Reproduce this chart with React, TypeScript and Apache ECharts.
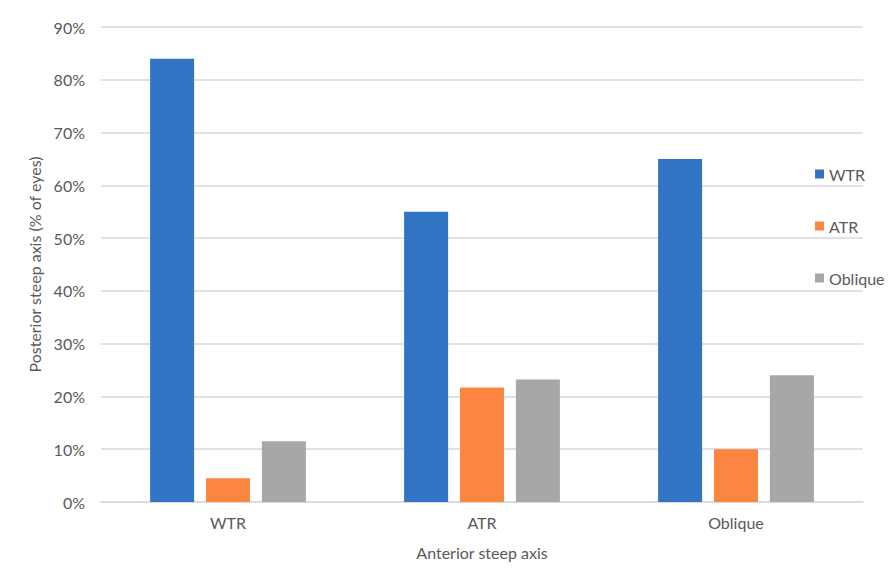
import React, { useEffect, useRef } from "react";
import * as echarts from "echarts";

const categories = ["WTR", "ATR", "Oblique"];
const seriesNames = ["WTR", "ATR", "Oblique"];
const wtrValues = [84, 55, 65];
const atrValues = [4.5, 21.7, 10];
const obliqueValues = [11.5, 23.2, 24];
const colors = ["#3174C3", "#FD8542", "#A7A7A7"];

export default function App() {
  const ref = useRef<HTMLDivElement>(null);
  useEffect(() => {
    const chart = echarts.init(ref.current!, null, { renderer: "svg" });
    const font = "Lato, 'Open Sans', sans-serif";
    const data = [wtrValues, atrValues, obliqueValues];
    chart.setOption({
      animation: false,
      textStyle: { fontFamily: font },
      grid: { left: 101, right: 25, top: 27, bottom: 74 },
      legend: {
        orient: "vertical",
        left: 810,
        top: 161,
        itemGap: 36,
        itemWidth: 9,
        itemHeight: 9,
        icon: "rect",
        textStyle: { color: "#595959", fontSize: 16, fontFamily: font },
        data: seriesNames,
      },
      xAxis: {
        type: "category",
        data: categories,
        axisTick: { show: false },
        axisLine: { lineStyle: { color: "#D9D9D9", width: 1.5 } },
        axisLabel: { color: "#595959", fontSize: 16, margin: 12 },
        name: "Anterior steep axis",
        nameLocation: "middle",
        nameGap: 42,
        nameTextStyle: { color: "#595959", fontSize: 16 },
      },
      yAxis: {
        type: "value",
        min: 0,
        max: 90,
        interval: 10,
        axisLabel: { color: "#595959", fontSize: 16, formatter: "{value}%", margin: 16 },
        axisLine: { show: false },
        axisTick: { show: false },
        splitLine: { lineStyle: { color: "#D9D9D9", width: 1.5 } },
        name: "Posterior steep axis (% of eyes)",
        nameLocation: "middle",
        nameGap: 57,
        nameTextStyle: { color: "#595959", fontSize: 16 },
      },
      series: seriesNames.map((n, i) => ({
        name: n,
        type: "bar",
        data: data[i],
        barWidth: 44,
        barGap: "27%",
        itemStyle: { color: colors[i] },
      })),
    });
    return () => chart.dispose();
  }, []);
  return (
    <div
      ref={ref}
      style={{ position: "fixed", left: 0, top: 0, width: 888, height: 576, background: "#fff" }}
    />
  );
}
